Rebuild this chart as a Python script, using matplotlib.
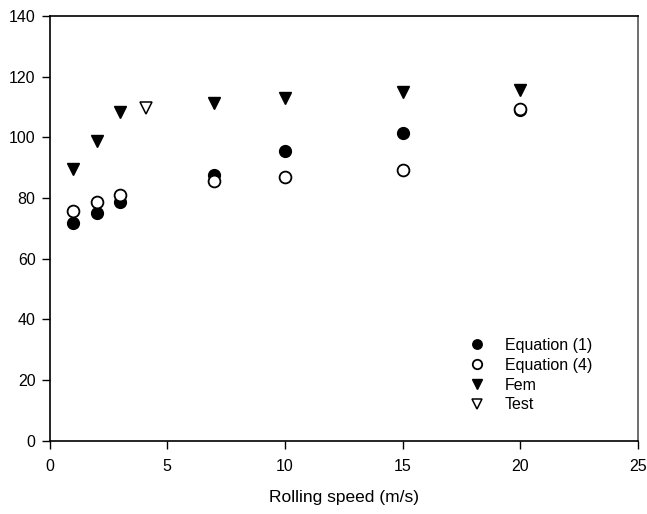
import numpy as np
import matplotlib
matplotlib.use("Agg")
import matplotlib.pyplot as plt

plt.rcParams['font.family'] = ['Liberation Sans', 'DejaVu Sans']

# Rolling speed (m/s)
speed = [1, 2, 3, 7, 10, 15, 20]

# Predicted / computed values for each method
eq1 = [71.8, 75.1, 78.7, 87.5, 95.5, 101.5, 109.0]
eq4 = [75.7, 78.7, 80.9, 85.5, 86.9, 89.1, 109.5]
fem = [89.7, 98.7, 108.4, 111.4, 113.0, 115.0, 115.5]

# Measured value
test_speed = [4.1]
test_val = [109.8]

fig = plt.figure(figsize=(6.47, 5.14), dpi=100)
ax = fig.add_axes([49.5 / 647, 1 - 440.7 / 514, (638 - 49.5) / 647, (440.7 - 16) / 514])

ms = 8.5
ax.plot(speed, eq1, 'o', color='black', ms=ms, mec='black', label='Equation (1)', clip_on=False)
ax.plot(speed, eq4, 'o', mfc='white', mec='black', mew=1.3, ms=ms, label='Equation (4)', clip_on=False)
ax.plot(speed, fem, 'v', color='black', ms=ms, label='Fem', clip_on=False)
ax.plot(test_speed, test_val, 'v', mfc='white', mec='black', mew=1.1, ms=ms, label='Test', clip_on=False)

ax.set_xlim(0, 25)
ax.set_ylim(0, 140)
ax.set_xticks(np.arange(0, 26, 5))
ax.set_yticks(np.arange(0, 141, 20))
ax.tick_params(direction='out', length=6, width=1, labelsize=11.5, pad=4)
ax.tick_params(axis='x', pad=7)
ax.tick_params(top=False, right=False)

for side in ['left', 'bottom', 'top']:
    ax.spines[side].set_linewidth(1.2)
ax.spines['right'].set_color('#555555')
ax.spines['right'].set_linewidth(1.2)

ax.set_xlabel('Rolling speed (m/s)', fontsize=12.5, labelpad=12)

ax.legend(loc='upper left', bbox_to_anchor=(0.686, 0.2755), frameon=False,
          fontsize=11.5, handletextpad=1.15, labelspacing=0.3, handlelength=1.2,
          markerscale=0.8)

fig.savefig('out.png', dpi=100)
